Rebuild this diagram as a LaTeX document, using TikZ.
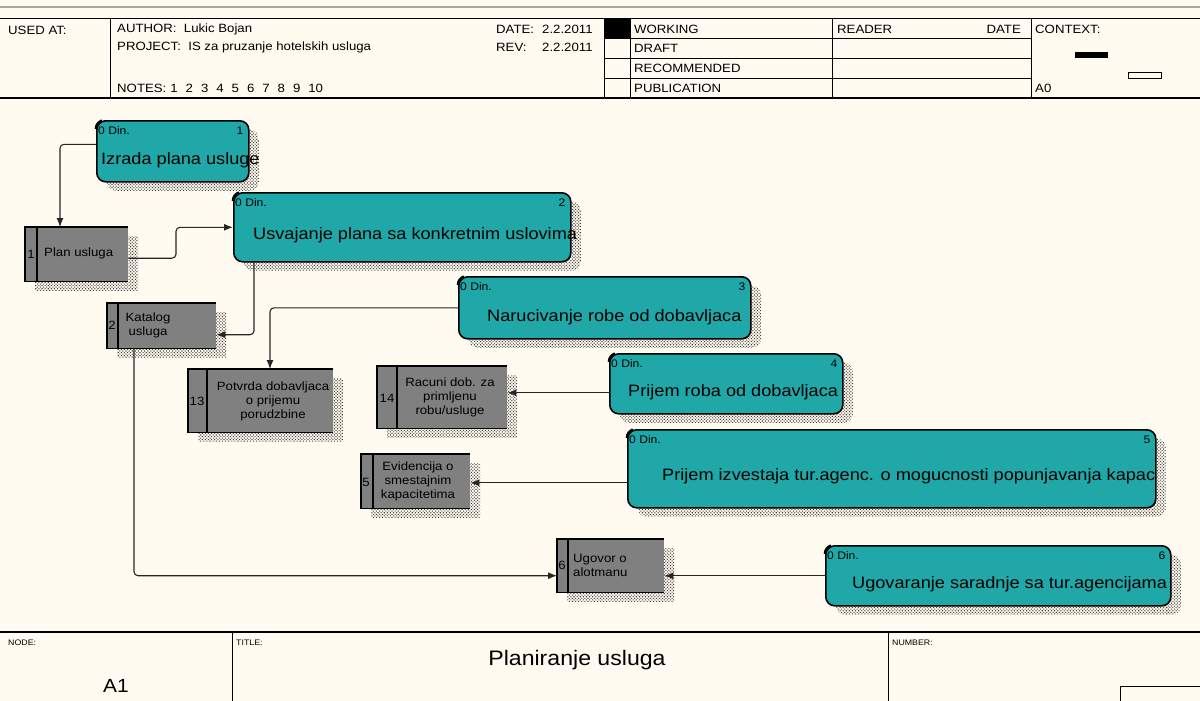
\documentclass[tikz,border=0pt]{standalone}
\usepackage{fontspec}
\setmainfont[FakeStretch=1.1]{Liberation Sans}
\usetikzlibrary{patterns,patterns.meta,shadows,arrows.meta}
\definecolor{bg}{RGB}{255,251,240}
\definecolor{actfill}{RGB}{32,168,168}
\definecolor{storefill}{RGB}{128,128,128}
\begin{document}
\begin{tikzpicture}[x=1pt,y=-1pt,
  shd/.style={general shadow={shadow xshift=10pt, shadow yshift=-9pt, pattern={Dots[distance=2.2pt, radius=0.75pt, angle=45]}, pattern color=black!75}},
  act/.style={shd, draw=black, line width=1.6pt, fill=actfill, rounded corners=9pt, anchor=north west, inner sep=0pt},
  store/.style={shd, fill=storefill, anchor=north west, inner sep=0pt},
  sline/.style={line width=1.5pt, black},
  flow/.style={line width=1.1pt, black!85, rounded corners=4pt, -{Latex[length=9pt,width=7pt]}},
  hdr/.style={font=\fontsize{12}{13}\selectfont, inner sep=0pt, anchor=west},
  din/.style={font=\fontsize{11}{12}\selectfont, inner sep=0pt},
  albl/.style={font=\fontsize{16.5}{19}\selectfont, inner sep=0pt, anchor=west},
  slbl/.style={font=\fontsize{12}{14}\selectfont, inner sep=0pt, align=center},
  snum/.style={font=\fontsize{12}{14}\selectfont, inner sep=0pt},
  ftr/.style={font=\fontsize{8}{9}\selectfont, inner sep=0pt, anchor=west}
]
\useasboundingbox[fill=bg] (0,0) rectangle (1200,701);

% ---------- header ----------
\draw[gray!70, line width=1.5pt] (0,7) -- (1200,7);
\draw[line width=1pt] (0,19) -- (1200,19);
\draw[line width=1pt] (0,98) -- (1200,98);
\foreach \xx in {110,604,630,832,1031} \draw[line width=1pt] (\xx,19) -- (\xx,98);
\foreach \yy in {39,59,79} \draw[line width=1pt] (604,\yy) -- (1031,\yy);
\fill (604,19) rectangle (630,39);
\fill (1075,52) rectangle (1108,58);
\draw[line width=0.8pt] (1128,72) rectangle (1161,78);

\node[hdr] (usedat) at (8,30) {USED AT:};
\node[hdr] (author) at (117,29) {AUTHOR:\ \ Lukic Bojan};
\node[hdr] (project) at (117,47) {PROJECT:\ \ IS za pruzanje hotelskih usluga};
\node[hdr] (notes) at (117,88) {NOTES:\hspace{4pt}1\hspace{8pt}2\hspace{8pt}3\hspace{8pt}4\hspace{8pt}5\hspace{8pt}6\hspace{8pt}7\hspace{8pt}8\hspace{8pt}9\hspace{8pt}10};
\node[hdr] (datel) at (496,29) {DATE:};
\node[hdr] (datev) at (542,29) {2.2.2011};
\node[hdr] (revl) at (496,47) {REV:};
\node[hdr] (revv) at (542,47) {2.2.2011};
\node[hdr] (working) at (634,29) {WORKING};
\node[hdr] (draft) at (634,48) {DRAFT};
\node[hdr] (recommended) at (634,68) {RECOMMENDED};
\node[hdr] (publication) at (634,88) {PUBLICATION};
\node[hdr] (reader) at (837,29) {READER};
\node[hdr, anchor=east] (rdate) at (1021,29) {DATE};
\node[hdr] (context) at (1035,29) {CONTEXT:};
\node[hdr] (a0) at (1035,88) {A0};

% ---------- footer ----------
\draw[line width=1.3pt] (0,632) -- (1200,632);
\draw[line width=1pt] (232,632) -- (232,701);
\draw[line width=1pt] (888,632) -- (888,701);
\draw[line width=1pt] (1120,701) |- (1200,686);
\node[ftr] (nodel) at (8,643) {NODE:};
\node[ftr] (titlel) at (236,643) {TITLE:};
\node[ftr] (numberl) at (892,643) {NUMBER:};
\node[font=\fontsize{19}{21}\selectfont, inner sep=0pt] (a1lbl) at (116,686) {A1};
\node[font=\fontsize{21}{24}\selectfont, inner sep=0pt] (title) at (577,660) {Planiranje usluga};

% ---------- activities ----------
\node[act, minimum width=152pt, minimum height=61pt] (a1) at (96,120) {};
\node[act, minimum width=337pt, minimum height=69pt] (a2) at (233,192) {};
\node[act, minimum width=292pt, minimum height=62pt] (a3) at (458,276) {};
\node[act, minimum width=233pt, minimum height=60pt] (a4) at (609,353) {};
\node[act, minimum width=528pt, minimum height=78pt] (a5) at (627,429) {};
\node[act, minimum width=345pt, minimum height=60pt] (a6) at (825,545) {};
\foreach \n in {a1,a2,a3,a4,a5,a6}
  \draw[line width=2.6pt] ([yshift=-9pt]\n.north west) arc[start angle=180,end angle=110,radius=9pt];

\foreach \n/\k in {a1/1,a2/2,a3/3,a4/4,a5/5,a6/6}{
  \node[din, anchor=west] (\n din) at ([xshift=2pt,yshift=-10.5pt]\n.north west) {0 Din.};
  \node[din, anchor=east] (\n num) at ([xshift=-6pt,yshift=-10.5pt]\n.north east) {\k};
}
\node[albl] (a1t) at (101,160) {Izrada plana usluge};
\node[albl] (a2t) at (253,235) {Usvajanje plana sa konkretnim uslovima};
\node[albl] (a3t) at (487,317) {Narucivanje robe od dobavljaca};
\node[albl] (a4t) at (628,392) {Prijem roba od dobavljaca};
\node[albl] (a5t) at (662,476) {Prijem izvestaja tur.agenc. o mogucnosti popunjavanja kapac};
\node[albl] (a6t) at (852,584) {Ugovaranje saradnje sa tur.agencijama};

% ---------- data stores ----------
\node[store, minimum width=103pt, minimum height=54pt] (s1) at (25,227) {};
\node[store, minimum width=109pt, minimum height=45pt] (s2) at (107,303) {};
\node[store, minimum width=145pt, minimum height=63pt] (s13) at (188,369) {};
\node[store, minimum width=130pt, minimum height=62pt] (s14) at (377,366) {};
\node[store, minimum width=109pt, minimum height=54pt] (s5) at (361,454) {};
\node[store, minimum width=107pt, minimum height=53pt] (s6) at (557,539) {};
\foreach \n/\d in {s1/12,s2/11,s13/19,s14/20,s5/12,s6/11}{
  \draw[sline] (\n.north east) -- (\n.north west) -- (\n.south west) -- (\n.south east);
  \draw[sline] ([xshift=\d pt]\n.north west) -- ([xshift=\d pt]\n.south west);
}
\node[snum] (s1n) at (31,254) {1};
\node[slbl, anchor=west] (s1t) at (44,253) {Plan usluga};
\node[snum] (s2n) at (112,325) {2};
\node[slbl] (s2t) at (148,325) {Katalog\\usluga};
\node[snum] (s13n) at (197,401) {13};
\node[slbl] (s13t) at (273,401) {Potvrda dobavljaca\\o prijemu\\porudzbine};
\node[snum] (s14n) at (387,398) {14};
\node[slbl] (s14t) at (450,397) {Racuni dob. za\\primljenu\\robu/usluge};
\node[snum] (s5n) at (366,482) {5};
\node[slbl] (s5t) at (418,481) {Evidencija o\\smestajnim\\kapacitetima};
\node[snum] (s6n) at (562,565) {6};
\node[slbl, align=left, anchor=west] (s6t) at (573,565) {Ugovor o\\alotmanu};

% ---------- connectors ----------
\coordinate (c2) at (176,240);
\coordinate (p5) at ([yshift=-9pt]a4.west);
\coordinate (p6) at ([yshift=-14pt]a5.west);
\coordinate (p7) at ([yshift=-10pt]s6.west);
\draw[flow] ([yshift=7pt]a1.west) -| ([xshift=35pt]s1.north west);
\draw[flow] ([yshift=-4pt]s1.east) -| (c2) |- (a2.west);
\draw[flow] ([xshift=21pt]a2.south west) |- ([yshift=-9pt]s2.east);
\draw[flow] (a3.west) -| ([xshift=82pt]s13.north west);
\draw[flow] (p5) -- (p5 -| s14.east);
\draw[flow] (p6) -- (p6 -| s5.east);
\draw[flow] ([xshift=27pt]s2.south west) |- (p7);
\draw[flow] (a6.west) -- (a6.west -| s6.east);
\end{tikzpicture}
\end{document}
